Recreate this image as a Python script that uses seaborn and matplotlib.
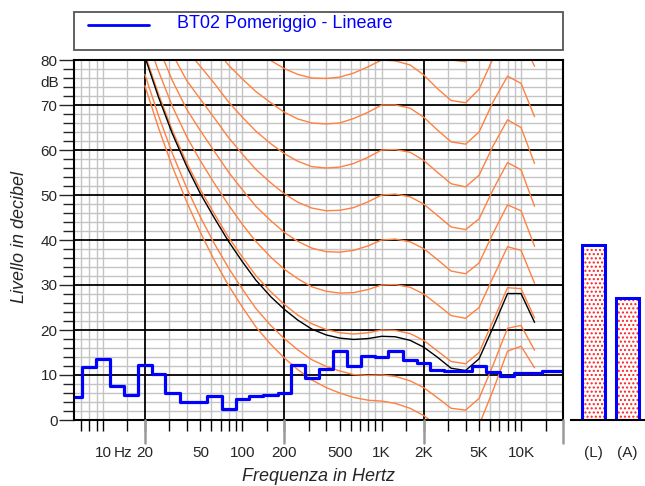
import numpy as np
import pandas as pd
import matplotlib
matplotlib.use("Agg")
import matplotlib.pyplot as plt
import matplotlib.ticker as mticker
from matplotlib.patches import Rectangle
from matplotlib.lines import Line2D
import seaborn as sns

# ---- data ----
contour_freqs = [20, 25, 31.5, 40, 50, 63, 80, 100, 125, 160, 200, 250, 315, 400, 500, 630,
                 800, 1000, 1250, 1600, 2000, 2500, 3150, 4000, 5000, 6300, 8000, 10000, 12500]
threshold = [74.3, 65.0, 56.3, 48.4, 41.7, 35.5, 29.8, 25.1, 20.7, 16.8, 13.8, 11.2, 8.9, 7.2, 6.0, 5.0, 4.4, 4.2,
             3.7, 2.6, 1.0, -1.2, -3.6, -3.9, -1.1, 6.6, 15.3, 16.4, 11.6]
phon_10 = [76.8, 67.7, 59.2, 51.5, 45.1, 39.2, 33.7, 29.1, 24.8, 21.0, 18.1, 15.6, 13.4, 11.9, 10.9, 10.1, 9.9, 10.0,
           9.7, 8.7, 7.2, 5.0, 2.6, 2.2, 4.8, 12.2, 20.4, 21.0, 15.5]
phon_20 = [81.3, 72.5, 64.3, 57.1, 51.2, 45.8, 40.5, 36.2, 32.1, 28.5, 25.7, 23.3, 21.4, 20.1, 19.4, 19.1, 19.4, 20.0,
           19.9, 19.2, 17.7, 15.4, 13.0, 12.5, 15.0, 22.0, 29.4, 29.2, 22.7]
phon_30 = [86.0, 77.6, 69.7, 62.9, 57.6, 52.6, 47.7, 43.5, 39.7, 36.2, 33.5, 31.4, 29.6, 28.6, 28.2, 28.3, 29.0, 30.0,
           30.1, 29.5, 28.0, 25.7, 23.2, 22.6, 25.0, 31.7, 38.5, 37.7, 30.4]
phon_40 = [91.0, 82.9, 75.4, 69.0, 64.3, 59.7, 55.0, 51.2, 47.5, 44.3, 41.7, 39.7, 38.2, 37.4, 37.3, 37.7, 38.7, 40.0,
           40.2, 39.6, 38.1, 35.7, 33.1, 32.5, 34.9, 41.5, 47.8, 46.5, 38.6]
phon_50 = [96.2, 88.5, 81.3, 75.4, 71.3, 67.1, 62.7, 59.1, 55.7, 52.7, 50.3, 48.4, 47.1, 46.5, 46.6, 47.2, 48.5, 50.0,
           50.2, 49.6, 48.0, 45.5, 42.9, 42.3, 44.7, 51.2, 57.2, 55.6, 47.5]
phon_60 = [101.7, 94.4, 87.6, 82.1, 78.6, 74.8, 70.6, 67.3, 64.2, 61.4, 59.2, 57.5, 56.3, 56.0, 56.2, 57.0, 58.4, 60.0,
           60.1, 59.5, 57.7, 55.1, 52.5, 51.8, 54.4, 60.9, 66.7, 65.0, 57.0]
phon_70 = [107.6, 100.7, 94.3, 89.2, 86.4, 82.8, 78.8, 75.8, 73.0, 70.5, 68.4, 66.9, 66.0, 65.8, 66.0, 67.0, 68.4, 70.0,
           70.0, 69.3, 67.3, 64.5, 61.8, 61.3, 64.0, 70.7, 76.4, 74.8, 67.4]
phon_80 = [113.7, 107.3, 101.3, 96.6, 94.6, 91.1, 87.4, 84.7, 82.2, 79.9, 78.1, 76.8, 76.0, 75.9, 76.2, 77.1, 78.5, 80.0,
           79.8, 78.9, 76.7, 73.7, 71.0, 70.5, 73.5, 80.4, 86.3, 84.9, 78.6]
phon_90 = [120.3, 114.4, 108.7, 104.4, 103.2, 99.8, 96.3, 94.0, 91.8, 89.8, 88.1, 87.0, 86.4, 86.4, 86.6, 87.5, 88.7, 90.0,
           89.5, 88.4, 85.9, 82.7, 80.0, 79.6, 82.9, 90.1, 96.3, 95.5, 90.9]
black_levels = [80.7, 71.8, 63.6, 56.3, 50.3, 44.9, 39.6, 35.2, 31.1, 27.4, 24.6, 22.2, 20.2, 18.9, 18.2, 17.9, 18.1,
                18.6, 18.5, 17.7, 16.2, 14.0, 11.5, 11.0, 13.6, 20.6, 28.1, 28.1, 21.7]

band_freqs = [6.3, 8, 10, 12.5, 16, 20, 25, 31.5, 40, 50, 63, 80, 100, 125, 160, 200, 250, 315, 400, 500,
              630, 800, 1000, 1250, 1600, 2000, 2500, 3150, 4000, 5000, 6300, 8000, 10000, 12500, 16000, 20000]
band_levels = [5.2, 11.7, 13.6, 7.6, 5.6, 12.3, 10.3, 6.0, 3.9, 4.1, 5.3, 2.4, 4.7, 5.3, 5.5, 6.1, 12.3, 9.3,
               11.4, 15.4, 12.1, 14.3, 14.1, 15.3, 13.3, 12.6, 11.2, 10.8, 11.0, 12.1, 10.7, 9.8, 10.4, 10.5,
               10.9, 10.9]

overall_labels = ["(L)", "(A)"]
overall_levels = [38.9, 27.2]

x_label_ticks = [10, 20, 50, 100, 200, 500, 1000, 2000, 5000, 10000]
x_tick_labels = ["10", "20", "50", "100", "200", "500", "1K", "2K", "5K", "10K"]
x_minor_ticks = [7, 8, 9, 15, 30, 40, 60, 70, 80, 90, 150, 300, 400, 600, 700, 800, 900, 1500,
                 3000, 4000, 6000, 7000, 8000, 9000, 15000]
x_dark_lines = [20, 200, 2000]
y_tick_values = [0, 10, 20, 30, 40, 50, 60, 70, 80]

ORANGE = "#ff8040"
BLUE = "#0000ff"

sns.set_theme(style="white")
plt.rcParams['font.family'] = ['Liberation Sans', 'DejaVu Sans']
plt.rcParams['hatch.linewidth'] = 1.0

W, H = 645, 486
fig = plt.figure(figsize=(W / 100, H / 100), dpi=100)
def fx(px): return px / W
def fy(py): return 1 - py / H

L, R, T, B = 74, 563, 60, 420
ax = fig.add_axes([fx(L), fy(B), (R - L) / W, (B - T) / H])
ax.set_xscale('log')
ax.set_xlim(6.2, 20000)
ax.set_ylim(0, 80)

# grid
for v in x_minor_ticks + x_label_ticks:
    if v not in x_dark_lines:
        ax.axvline(v, color="#c4c4c4", lw=1.0, zorder=1)
for v in x_dark_lines:
    ax.axvline(v, color="black", lw=1.3, zorder=2)
for v in range(2, 80, 2):
    if v % 10:
        ax.axhline(v, color="#c4c4c4", lw=1.0, zorder=1)
for v in range(10, 80, 10):
    ax.axhline(v, color="black", lw=1.3, zorder=2)

# equal-loudness contours
curves = {"MAF": threshold, "10": phon_10, "20": phon_20, "30": phon_30, "40": phon_40,
          "50": phon_50, "60": phon_60, "70": phon_70, "80": phon_80, "90": phon_90}
df = pd.DataFrame([{"freq": f, "level": v, "curve": k}
                   for k, vals in curves.items() for f, v in zip(contour_freqs, vals)])
sns.lineplot(data=df, x="freq", y="level", units="curve", estimator=None, color=ORANGE,
             lw=1.0, ax=ax, legend=False, zorder=3)
sns.lineplot(x=contour_freqs, y=black_levels, color="black", lw=1.0, ax=ax, zorder=4)

# 1/3-octave spectrum as steps
edges = [band_freqs[0] / 10 ** 0.05] + [np.sqrt(a * b) for a, b in zip(band_freqs[:-1], band_freqs[1:])] \
        + [band_freqs[-1] * 10 ** 0.05]
step_levels = band_levels + [band_levels[-1]]
sns.lineplot(x=edges, y=step_levels, drawstyle="steps-post", color=BLUE, lw=2.3, ax=ax, zorder=5)

for s in ax.spines.values():
    s.set_color("black")
    s.set_linewidth(1.5)
    s.set_zorder(6)

ax.set_xticks(x_label_ticks)
ax.set_xticklabels(x_tick_labels)
ax.xaxis.set_minor_locator(mticker.FixedLocator(x_minor_ticks))
ax.xaxis.set_minor_formatter(mticker.NullFormatter())
ax.tick_params(axis="x", which="both", direction="out", bottom=True, length=7.9, width=1.0,
               color="black", labelsize=11, pad=11)
ax.set_yticks(y_tick_values)
ax.yaxis.set_minor_locator(mticker.MultipleLocator(2))
ax.tick_params(axis="y", which="major", direction="out", left=True, length=10.8, width=1.0,
               labelsize=11, pad=1)
ax.tick_params(axis="y", which="minor", direction="out", left=True, length=7.9, width=1.0)
ax.set_xlabel("")
ax.set_ylabel("")

for v in [20, 200, 2000, 20000]:
    ax.plot([v, v], [0, -23 / 360], transform=ax.get_xaxis_transform(), color="#9a9a9a",
            lw=1.8, clip_on=False, zorder=7)

fig.text(fx(114), fy(453), "Hz", fontsize=11, ha="left", va="center")
fig.text(fx(59), fy(83), "dB", fontsize=11, ha="right", va="center")
fig.text(fx(20), fy(237), "Livello in decibel", fontsize=13, style="italic", rotation=90,
         ha="center", va="center")
fig.text(fx(318), fy(476), "Frequenza in Hertz", fontsize=13, style="italic", ha="center", va="center")

# legend box
fig.add_artist(Rectangle((fx(74), fy(50)), (563 - 74) / W, 38 / H, transform=fig.transFigure,
                         fill=False, edgecolor="#555555", lw=1.3))
fig.add_artist(Line2D([fx(88), fx(149)], [fy(25), fy(25)], transform=fig.transFigure, color=BLUE, lw=2.0))
fig.text(fx(177), fy(24), "BT02 Pomeriggio - Lineare", fontsize=13, color=BLUE, ha="left", va="center")

# overall levels
ax2 = fig.add_axes([fx(571), fy(B), 74 / W, (B - T) / H])
sns.barplot(x=overall_labels, y=overall_levels, ax=ax2, width=0.68, facecolor="white",
            edgecolor="#ff2020", hatch="....", linewidth=0)
sns.barplot(x=overall_labels, y=overall_levels, ax=ax2, width=0.68, facecolor="none",
            edgecolor=BLUE, linewidth=2.2)
ax2.set_xlim(-0.668, 1.509)
ax2.set_ylim(0, 80)
for k, s in ax2.spines.items():
    s.set_visible(k == "bottom")
ax2.spines["bottom"].set_color("black")
ax2.spines["bottom"].set_linewidth(1.5)
ax2.set_yticks([])
ax2.tick_params(axis="x", length=0, labelsize=11, pad=19)
ax2.set_xlabel("")
ax2.set_ylabel("")
ax2.set_facecolor("none")

fig.savefig("out.png", dpi=100)
